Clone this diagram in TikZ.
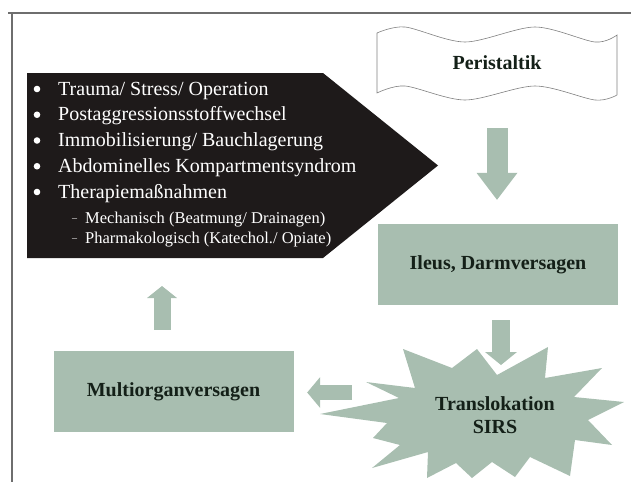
\documentclass[tikz,border=0pt]{standalone}
\usepackage{fontspec}
\setmainfont{Liberation Serif}
\usetikzlibrary{arrows.meta}

\definecolor{sage}{RGB}{168,190,176}
\definecolor{nearblack}{RGB}{30,26,26}
\definecolor{framegray}{RGB}{110,110,110}
\definecolor{darktext}{RGB}{20,32,24}

\tikzset{
  box/.style={fill=sage, minimum width=240, minimum height=81, inner sep=0,
    font=\fontsize{20}{24}\selectfont\bfseries, text=darktext},
  item/.style={anchor=base west, inner sep=0, text=white, font=\fontsize{20}{24}\selectfont},
  subitem/.style={anchor=base west, inner sep=0, text=white, font=\fontsize{16.5}{20}\selectfont},
  blockarr/.style n args={3}{draw=sage, line width=#1,
    -{Triangle[width=#2, length=#3, line width=0pt]}},
}

\begin{document}
\begin{tikzpicture}[x=1pt,y=-1pt]
  \useasboundingbox (0,0) rectangle (631,482);
  % frame
  \draw[framegray, line width=1.6] (8,13) -- (631,13);
  \draw[framegray, line width=1.6] (12,13) -- (12,482);

  % causes (black pointer)
  \fill[nearblack] (27,73) -- (323,73) -- (438,165.5) -- (323,258) -- (27,258) -- cycle;
  \foreach \txt [count=\i] in {Trauma/ Stress/ Operation, Postaggressionsstoffwechsel,
      Immobilisierung/ Bauchlagerung, Abdominelles Kompartmentsyndrom, Therapiemaßnahmen}{
    \fill[white] (37,{89+25.75*(\i-1)}) circle (3.3);
    \node[item] (item\i) at (58,{95+25.75*(\i-1)}) {\txt};
  }
  \node[subitem, font=\fontsize{10}{12}\selectfont] (dash1) at (72,221) {--};
  \node[subitem, font=\fontsize{10}{12}\selectfont] (dash2) at (72,241) {--};
  \node[subitem] (sub1) at (85,223) {Mechanisch (Beatmung/ Drainagen)};
  \node[subitem] (sub2) at (85,243) {Pharmakologisch (Katechol./ Opiate)};
  \coordinate (causes-in) at (162,286);

  % Peristaltik banner
  \draw[gray, line width=0.6, fill=white]
    plot[smooth] coordinates {(377,33) (405,27) (465,42) (535,27) (595,42) (617,35)}
    -- plot[smooth] coordinates {(617,95) (595,100) (535,86) (465,100) (405,86) (377,93)}
    -- cycle;
  \node[font=\fontsize{20}{24}\selectfont\bfseries, text=darktext,
    minimum width=240, minimum height=60, inner sep=0] (peri) at (497,63) {Peristaltik};

  % boxes
  \node[box] (ileus) at (498,264.5) {Ileus, Darmversagen};
  \node[box] (multi) at (173.5,391.5) {Multiorganversagen};

  % starburst
  \fill[sage] (403,349) -- (452,368) -- (477,349) -- (497,375) -- (548,347) -- (545,378)
    -- (602,368) -- (574,397) -- (624,402) -- (588,420) -- (612,445) -- (575,440)
    -- (570,476) -- (530,457) -- (515,477) -- (492,462) -- (472,478) -- (456,463)
    -- (427,478) -- (428,452) -- (372,468) -- (400,445) -- (373,438) -- (387,423)
    -- (320,414) -- (399,398) -- (366,382) -- (415,388) -- cycle;
  \node[font=\fontsize{20}{23}\selectfont\bfseries, text=darktext, align=center,
    inner sep=0] (burst) at (495,415) {Translokation\\SIRS};
  \coordinate (burst-in) at (501,365);
  \coordinate (burst-out) at (352,392.5);

  % arrows
  \draw[blockarr={21}{41pt}{27pt}, shorten <=35pt, shorten >=24pt]
    (peri.south) -- (peri.south |- ileus.north);
  \draw[blockarr={18}{32pt}{13pt}, shorten <=15pt] ([xshift=3pt]ileus.south) -- (burst-in);
  \draw[blockarr={15}{31pt}{13pt}, shorten >=13.5pt] (burst-out) -- (multi.east |- burst-out);
  \draw[blockarr={17}{30pt}{12pt}, shorten <=21pt] ([xshift=-11.5pt]multi.north) -- (causes-in);
\end{tikzpicture}
\end{document}
